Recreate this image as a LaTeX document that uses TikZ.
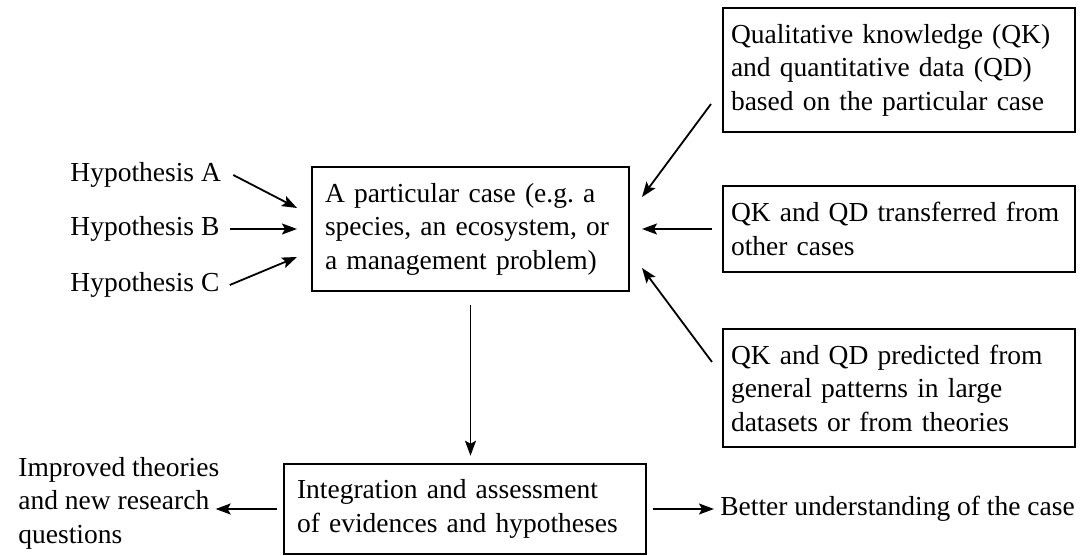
\documentclass[tikz,border=0pt]{standalone}
\usepackage{fontspec}
\setmainfont{Liberation Serif}
\usetikzlibrary{arrows.meta}
\begin{document}
\begin{tikzpicture}[x=0.5pt,y=-0.5pt,
  font=\fontsize{13.75}{16.75}\selectfont,
  box/.style={draw,line width=1pt,align=left,anchor=west,inner xsep=6.5pt,inner ysep=8pt},
  lab/.style={align=left,anchor=west,inner sep=0pt},
  arr/.style={-{Stealth[length=7.5pt,width=5.5pt,inset=1.5pt]},line width=0.9pt}]
\useasboundingbox (0,0) rectangle (1084,556);
\node [lab] (ha) at (70,175) {Hypothesis A};
\node [lab] (hb) at (70,229) {Hypothesis B};
\node [lab] (hc) at (70,285) {Hypothesis C};
\node [box,text width=145.5pt] (case) at (311,229) {A particular case (e.g.\ a\\species, an ecosystem, or\\a management problem)};
\node [box,text width=168pt,inner xsep=4pt] (qk) at (722,70) {Qualitative knowledge (QK)\\and quantitative data (QD)\\based on the particular case};
\node [box,text width=168pt,inner xsep=4pt] (tr) at (722,229) {QK and QD transferred from\\other cases};
\node [box,text width=168pt,inner xsep=4pt] (pr) at (722,388) {QK and QD predicted from\\general patterns in large\\datasets or from theories};
\node [box,text width=168pt] (integ) at (283,509) {Integration and assessment\\of evidences and hypotheses};
\node [lab] (imp) at (18,503) {Improved theories\\and new research\\questions};
\node [lab] (better) at (720,509) {Better understanding of the case};
\draw [arr] ([xshift=6pt]ha.east) -- ([xshift=-7pt,yshift=10.5pt]case.west);
\draw [arr] ([xshift=5pt]hb.east) -- ([xshift=-7pt]case.west);
\draw [arr] ([xshift=5pt]hc.east) -- ([xshift=-7pt,yshift=-14pt]case.west);
\draw [arr] ([xshift=-5.5pt,yshift=-17pt]qk.west) -- ([xshift=6pt,yshift=16pt]case.east);
\draw [arr] ([xshift=-5pt]tr.west) -- ([xshift=6pt]case.east);
\draw [arr] ([xshift=-5pt,yshift=13pt]pr.west) -- ([xshift=6pt,yshift=-19.5pt]case.east);
\draw [arr,shorten <=6.5pt,shorten >=3.5pt] (case.south) -- (case.south |- integ.north);
\draw [arr,shorten <=3pt,shorten >=-2pt] (integ.west) -- (integ.west -| imp.east);
\draw [arr,shorten <=3pt,shorten >=3pt] (integ.east) -- (better.west);
\end{tikzpicture}
\end{document}
